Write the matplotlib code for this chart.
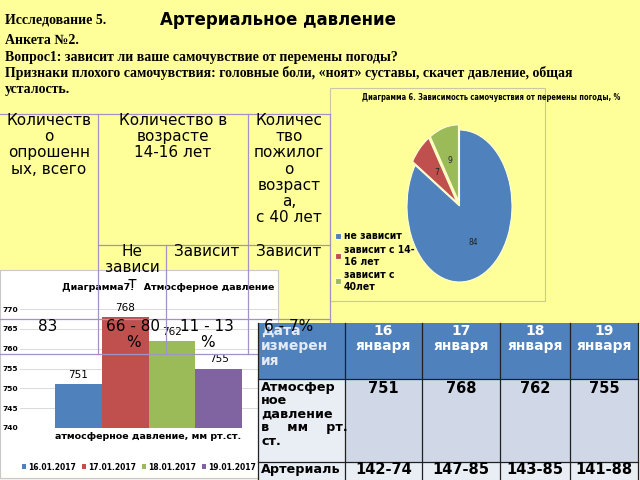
import matplotlib
matplotlib.use('Agg')
import matplotlib.pyplot as plt
import numpy as np
from matplotlib import font_manager
from matplotlib.patches import Rectangle

W, H = 640, 480
YELLOW = '#FFFF99'
LINE = '#A393C4'

# ---------------- data ----------------
pie_labels = ['не зависит', 'зависит с 14-16 лет', 'зависит с 40лет']
pie_legend_labels = ['не зависит', 'зависит с 14-\n16 лет', 'зависит с\n40лет']
pie_values = [84, 7, 9]
pie_colors = ['#4F81BD', '#C0504D', '#9BBB59']

bar_dates = ['16.01.2017', '17.01.2017', '18.01.2017', '19.01.2017']
bar_values = [751, 768, 762, 755]
bar_colors = ['#4F81BD', '#C0504D', '#9BBB59', '#8064A2']
bar_yticks = [740, 745, 750, 755, 760, 765, 770]

table_days = ['16\nянваря', '17\nянваря', '18\nянваря', '19\nянваря']
table_atm = ['751', '768', '762', '755']
table_art = ['142-74', '147-85', '143-85', '141-88']

survey_headers = ['Количеств\nо\nопрошенн\nых, всего',
                  'Количество в\nвозрасте\n14-16 лет',
                  'Количес\nтво\nпожилог\nо\nвозраст\nа,\nс 40 лет']
survey_sub = ['Не\nзависи\nт', 'Зависит', 'Зависит']
survey_vals = ['83', '66 - 80\n%', '11 - 13\n%', '6 - 7%']

avail = {f.name for f in font_manager.fontManager.ttflist}
NARROW = 'Liberation Sans Narrow' if 'Liberation Sans Narrow' in avail else 'DejaVu Sans'
SERIF = 'Liberation Serif'
SANS = 'DejaVu Sans'

fig = plt.figure(figsize=(6.4, 4.8), dpi=100, facecolor=YELLOW)


def px_axes(x0, y0, x1, y1, z):
    return fig.add_axes([x0 / W, 1 - y1 / H, (x1 - x0) / W, (y1 - y0) / H], zorder=z)


def overlay(z):
    ax = fig.add_axes([0, 0, 1, 1], zorder=z)
    ax.set_xlim(0, W)
    ax.set_ylim(H, 0)
    ax.axis('off')
    return ax


# ---------------- background layer ----------------
bg = overlay(0)
bg.add_patch(Rectangle((0, 270), 278, 208, facecolor='white', edgecolor='#C8C8C8', lw=0.8))
bg.add_patch(Rectangle((330, 88), 215, 213, facecolor='none', edgecolor='#C8C8A8', lw=0.8))

bg.text(5, 20, 'Исследование 5.', family=SERIF, weight='bold', fontsize=10, va='center')
bg.text(160, 20, 'Артериальное давление', family=SANS, weight='bold', fontsize=12, va='center')
bg.text(5, 41, 'Анкета №2.', family=SERIF, weight='bold', fontsize=10, va='center')
bg.text(5, 57, 'Вопрос1: зависит ли ваше самочувствие от перемены погоды?',
        family=SERIF, weight='bold', fontsize=10, va='center')
bg.text(5, 73, 'Признаки плохого самочувствия: головные боли, «ноят» суставы, скачет давление, общая',
        family=SERIF, weight='bold', fontsize=10, va='center')
bg.text(5, 89, 'усталость.', family=SERIF, weight='bold', fontsize=10, va='center')

bg.text(362, 98, 'Диаграмма 6. Зависимость самочувствия от перемены погоды, %',
        family=NARROW, fontstretch='condensed', weight='bold', fontsize=5.45, va='center')
bg.text(62, 288, 'Диаграмма7.   Атмосферное давление', family=SANS, weight='bold',
        fontsize=6.8, va='center')

# ---------------- bar chart ----------------
axb = px_axes(20, 309, 277, 428, 1)
axb.patch.set_alpha(0)
xpos = np.arange(len(bar_values)) - (len(bar_values) - 1) / 2
bars = axb.bar(xpos, bar_values, width=1.0, color=bar_colors, zorder=2)
axb.set_xlim(-2.75, 2.75)
axb.set_ylim(740, 770)
axb.set_yticks(bar_yticks)
axb.set_xticks([])
for s in axb.spines.values():
    s.set_visible(False)
axb.yaxis.grid(True, color='#D9D9D9', lw=0.7, zorder=0)
axb.tick_params(axis='y', length=0, pad=1.5, labelsize=5.4)
for lab in axb.get_yticklabels():
    lab.set_fontweight('bold')
axb.bar_label(bars, labels=[str(v) for v in bar_values], padding=3, fontsize=7.5, family=SANS)
axb.set_xlabel('атмосферное давление, мм рт.ст.', fontsize=6.8, weight='bold', labelpad=3)
leg = axb.legend(bars.patches, bar_dates, ncol=4, loc='center',
                 bbox_to_anchor=(139 / W, 1 - 467 / H), bbox_transform=fig.transFigure,
                 frameon=False, handlelength=0.55, handleheight=0.55, handletextpad=0.3,
                 columnspacing=0.7, prop=dict(size=5.5, weight='bold'))

# ---------------- pie chart ----------------
cx, cy, rx, ry = 459.5, 206, 52.5, 76
axp = px_axes(cx - 1.2 * rx, cy - 1.2 * ry, cx + 1.2 * rx, cy + 1.2 * ry, 1)
wedges, _, autot = axp.pie(pie_values, colors=pie_colors, startangle=90, counterclock=False,
                           explode=[0, 0.07, 0.07], autopct='%.0f', pctdistance=0.55,
                           wedgeprops=dict(edgecolor='#FFFFD8', linewidth=0.8),
                           textprops=dict(fontsize=5.5, color='#222222', family=NARROW))
axp.set_aspect('auto')
axp.set_xlim(-1.2, 1.2)
axp.set_ylim(-1.2, 1.2)
axp.patch.set_alpha(0)
axp.legend(wedges, pie_legend_labels, loc='upper left',
           bbox_to_anchor=(326 / W, 1 - 222 / H), bbox_transform=fig.transFigure,
           frameon=False, handlelength=0.5, handleheight=0.5, handletextpad=0.3,
           labelspacing=0.35, prop=dict(family=NARROW, stretch='condensed', weight='bold', size=7.5))

# ---------------- top layer: tables ----------------
top = overlay(2)
# yellow table lines
lk = dict(color=LINE, lw=0.9, zorder=1)
top.plot([0, 330], [114, 114], **lk)
top.plot([98, 330], [245, 245], **lk)
top.plot([0, 330], [319, 319], **lk)
top.plot([0, 330], [354, 354], **lk)
for x in (98, 248, 330):
    top.plot([x, x], [114, 354], **lk)
top.plot([166, 166], [245, 354], **lk)

# data table
cols = [258, 345, 422, 500, 570, 638]
rows = [323, 379, 462, 482]
for i in range(5):
    x0, x1 = cols[i], cols[i + 1]
    top.add_patch(Rectangle((x0, rows[0]), x1 - x0, rows[1] - rows[0],
                            facecolor='#4F81BD', edgecolor='none', zorder=2))
    top.add_patch(Rectangle((x0, rows[1]), x1 - x0, rows[2] - rows[1],
                            facecolor='#E9EDF4' if i == 0 else '#D0D8E8', edgecolor='none', zorder=2))
    top.add_patch(Rectangle((x0, rows[2]), x1 - x0, rows[3] - rows[2],
                            facecolor='#E9EDF4', edgecolor='none', zorder=2))
bk = dict(color='#202020', lw=0.9, zorder=2.5)
for x in cols:
    top.plot([x, x], [rows[0], rows[3]], **bk)
for y in rows[1:3]:
    top.plot([cols[0], cols[-1]], [y, y], **bk)

top.text(261, 324, 'Дата\nизмерен\nия', family=SANS, weight='bold', fontsize=10, color='#E4EAF4',
         va='top', ha='left', linespacing=1.1, zorder=3)
for i, d in enumerate(table_days):
    top.text((cols[i + 1] + cols[i + 2]) / 2, 324, d, family=SANS, weight='bold', fontsize=10,
             color='white', va='top', ha='center', linespacing=1.1, zorder=3)
top.text(261, 381, 'Атмосфер\nное\nдавление\nв    мм    рт.\nст.', family=SANS, weight='bold',
         fontsize=9.2, va='top', ha='left', linespacing=1.05, zorder=3)
for i, v in enumerate(table_atm):
    top.text((cols[i + 1] + cols[i + 2]) / 2, 381, v, family=SANS, weight='bold', fontsize=10.5,
             va='top', ha='center', zorder=3)
top.text(261, 470, 'Артериаль', family=SANS, weight='bold', fontsize=9.2, va='center', ha='left', zorder=3)
for i, v in enumerate(table_art):
    top.text((cols[i + 1] + cols[i + 2]) / 2, 470, v, family=SANS, weight='bold', fontsize=10.5,
             va='center', ha='center', zorder=3)

# yellow table texts (on top of everything)
tk = dict(family=SANS, fontsize=11, va='top', ha='center', linespacing=1.1, zorder=4)
top.text(49, 113, survey_headers[0], **tk)
top.text(173, 113, survey_headers[1], **tk)
top.text(289, 113, survey_headers[2], **tk)
top.text(132, 244, survey_sub[0], **tk)
top.text(207, 244, survey_sub[1], **tk)
top.text(289, 244, survey_sub[2], **tk)
top.text(48, 319, survey_vals[0], **tk)
top.text(133, 319, survey_vals[1], **tk)
top.text(207, 319, survey_vals[2], **tk)
top.text(289, 319, survey_vals[3], **tk)

fig.savefig('out.png', dpi=100, facecolor=YELLOW)
